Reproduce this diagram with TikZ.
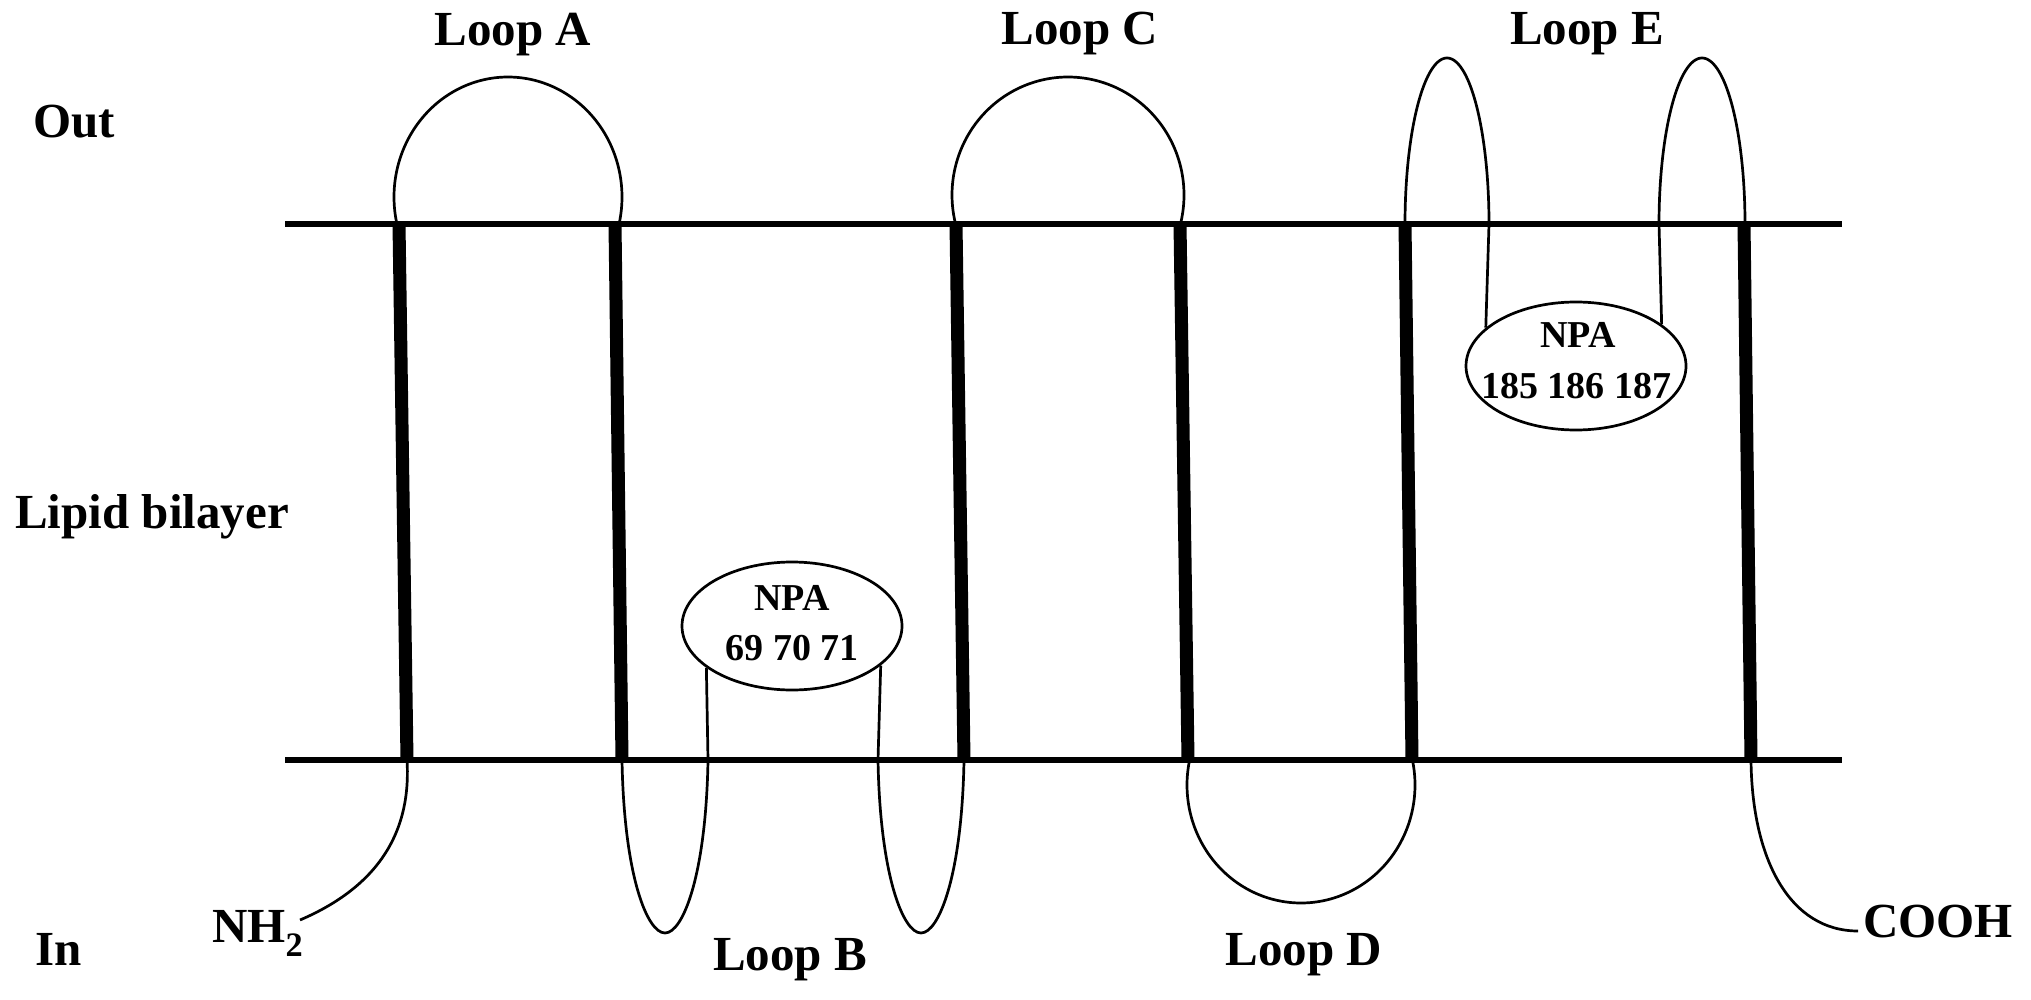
\documentclass[tikz,border=0pt]{standalone}
\usepackage{fontspec}
\setmainfont{Liberation Serif}
\usetikzlibrary{shapes.geometric}
\begin{document}
\begin{tikzpicture}[x=1pt,y=-1pt,
  membrane/.style={line width=6.5pt},
  helix/.style={line width=13pt},
  loopline/.style={line width=2.7pt},
  npaell/.style={ellipse, draw, line width=2.7pt, minimum width=220pt, minimum height=128pt, inner sep=0pt},
  lbl/.style={inner sep=0pt, font=\fontsize{49}{58}\selectfont\bfseries},
  npatxt/.style={inner sep=0pt, font=\fontsize{38}{46}\selectfont\bfseries}]
\useasboundingbox (0,0) rectangle (2031,1000);

% membrane boundaries
\coordinate (tl) at (285,224); \coordinate (tr) at (1842,224);
\coordinate (bl) at (285,760); \coordinate (br) at (1842,760);
\draw[membrane] (tl) -- (tr);
\draw[membrane] (bl) -- (br);

% helices
\coordinate (h1t) at (399,224);  \coordinate (h1b) at (407,760);
\coordinate (h2t) at (615,224);  \coordinate (h2b) at (622,760);
\coordinate (h3t) at (956,224);  \coordinate (h3b) at (964,760);
\coordinate (h4t) at (1180,224); \coordinate (h4b) at (1188,760);
\coordinate (h5t) at (1405,224); \coordinate (h5b) at (1412,760);
\coordinate (h6t) at (1744,224); \coordinate (h6b) at (1751,760);
\foreach \i in {1,...,6} { \draw[helix] (h\i t) -- (h\i b); }

% NPA ellipses
\node[npaell] (npa1) at (792,626) {};
\node[npaell] (npa2) at (1576,366) {};
\node[npatxt, anchor=base] (npa1a) at (792,610) {NPA};
\node[npatxt, anchor=base] (npa1b) at (792,660) {69 70 71};
\node[npatxt, anchor=base] (npa2a) at (1578,347) {NPA};
\node[npatxt, anchor=base] (npa2b) at (1576,398) {185 186 187};

% Loop A and Loop C (extracellular)
\draw[loopline] plot[smooth, samples=90, domain=167:373] ({508+114*cos(\x)},{197+120*sin(\x)});
\draw[loopline] plot[smooth, samples=90, domain=165.8:374.2] ({1068+116*cos(\x)},{195+118*sin(\x)});

% Loop E
\draw[loopline] plot[smooth, samples=90, domain=180:360] ({1447+42*cos(\x)},{224+166*sin(\x)}) -- (npa2.157);
\draw[loopline] (npa2.26) -- plot[smooth, samples=90, domain=180:360] ({1702+43*cos(\x)},{224+166*sin(\x)});

% Loop B
\draw[loopline] (h2b) .. controls (624,875) and (647,933) .. (665,933)
                      .. controls (683,933) and (706,875) .. (708,760) -- (npa1.206);
\draw[loopline] (npa1.336) -- (878,760) .. controls (880,875) and (903,933) .. (921,933)
                      .. controls (939,933) and (962,875) .. (h3b);

% Loop D
\draw[loopline] plot[smooth, samples=90, domain=-12.2:192.2] ({1301+114*cos(\x)},{785+118*sin(\x)});

% termini
\coordinate (nend) at (300,920);
\coordinate (cend) at (1858,931);
\draw[loopline] (h1b) .. controls (412,840) and (370,890) .. (nend);
\draw[loopline] (h6b) .. controls (1752,860) and (1790,931) .. (cend);

% labels
\node[lbl, anchor=base west] (out) at (33,138) {Out};
\node[lbl, anchor=base west] (lipid) at (15,528) {Lipid bilayer};
\node[lbl, anchor=base west] (in) at (35,965) {In};
\node[lbl, anchor=base west] (nh2) at (212,942) {NH\textsubscript{2}};
\node[lbl, anchor=base west] (cooh) at (1863,937) {COOH};
\node[lbl, anchor=base] (loopA) at (513,46) {Loop A};
\node[lbl, anchor=base] (loopC) at (1080,45) {Loop C};
\node[lbl, anchor=base] (loopE) at (1587,45) {Loop E};
\node[lbl, anchor=base] (loopB) at (790,970) {Loop B};
\node[lbl, anchor=base] (loopD) at (1304,965) {Loop D};
\end{tikzpicture}
\end{document}
